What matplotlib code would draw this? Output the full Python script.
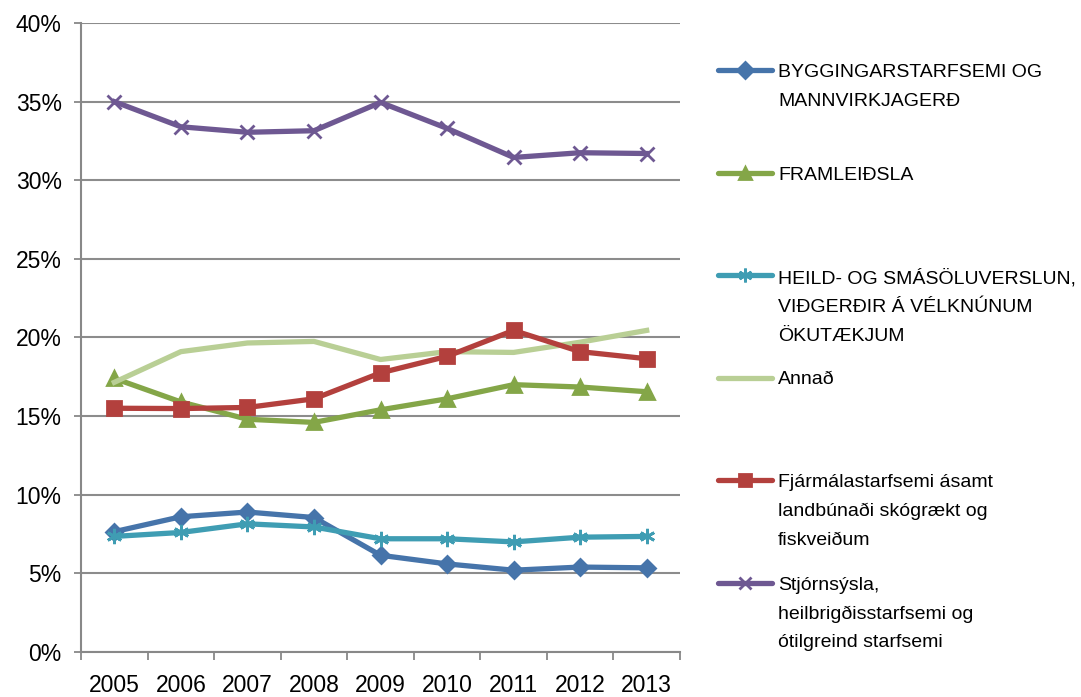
import matplotlib.pyplot as plt
from matplotlib.lines import Line2D
from matplotlib.ticker import MultipleLocator, FixedLocator, PercentFormatter

plt.rcParams['font.family'] = ['Liberation Sans', 'DejaVu Sans']

years = ['2005', '2006', '2007', '2008', '2009', '2010', '2011', '2012', '2013']

bygg = [7.65, 8.6, 8.9, 8.55, 6.15, 5.6, 5.2, 5.4, 5.35]
framl = [17.4, 15.9, 14.8, 14.6, 15.4, 16.1, 17.0, 16.85, 16.55]
heild = [7.35, 7.6, 8.15, 7.95, 7.2, 7.2, 7.0, 7.3, 7.35]
annad = [17.15, 19.1, 19.65, 19.75, 18.6, 19.1, 19.05, 19.7, 20.45]
fjarm = [15.5, 15.48, 15.55, 16.1, 17.75, 18.8, 20.45, 19.1, 18.65]
stjorn = [35.0, 33.4, 33.05, 33.15, 34.95, 33.3, 31.45, 31.75, 31.7]

labels = ['BYGGINGARSTARFSEMI OG\nMANNVIRKJAGERÐ',
          'FRAMLEIÐSLA',
          'HEILD- OG SMÁSÖLUVERSLUN,\nVIÐGERÐIR Á VÉLKNÚNUM\nÖKUTÆKJUM',
          'Annað',
          'Fjármálastarfsemi ásamt\nlandbúnaði skógrækt og\nfiskveiðum',
          'Stjórnsýsla,\nheilbrigðisstarfsemi og\nótilgreind starfsemi']

series = [bygg, framl, heild, annad, fjarm, stjorn]
colors = ['#4674AA', '#84A648', '#3F9DB3', '#B9CF95', '#B3403D', '#6E5892']
markers = ['D', '^', (6, 2, 0), None, 's', 'x']
msizes = [8.5, 10, 11, 0, 10, 10]

fig = plt.figure(figsize=(10.81, 6.97), dpi=100)
ax = fig.add_axes([0.075, 0.0646, 0.554, 0.9024])

x = list(range(len(years)))
for vals, c, m, ms in zip(series, colors, markers, msizes):
    ax.plot(x, vals, color=c, lw=3.8, marker=m, markersize=ms,
            markeredgecolor=c, markerfacecolor=c, markeredgewidth=2, zorder=3)

ax.set_xlim(-0.5, len(years) - 0.5)
ax.set_ylim(0, 40)
ax.yaxis.set_major_locator(MultipleLocator(5))
ax.yaxis.set_major_formatter(PercentFormatter(decimals=0))
ax.set_xticks(x)
ax.set_xticklabels(years)
ax.xaxis.set_minor_locator(FixedLocator([i - 0.5 for i in range(len(years) + 1)]))
ax.tick_params(axis='x', which='major', length=0, pad=16, labelsize=16.5)
ax.tick_params(axis='x', which='minor', length=6, color='#888888', width=1.3)
ax.tick_params(axis='y', length=5, color='#888888', width=1.3, pad=9, labelsize=16.5)

ax.grid(axis='y', color='#8c8c8c', lw=1.5, zorder=0)
for s in ['top', 'right']:
    ax.spines[s].set_visible(False)
for s in ['left', 'bottom']:
    ax.spines[s].set_color('#888888')
    ax.spines[s].set_linewidth(1.5)

# legend, entries spread evenly like the Excel original
y0 = 1 - 70 / 697
step = 102.5 / 697
for i, (lab, c, m, ms) in enumerate(zip(labels, colors, markers, msizes)):
    yy = y0 - i * step
    fig.add_artist(Line2D([718 / 1081, 772 / 1081], [yy, yy], color=c, lw=3.8,
                          solid_capstyle='round'))
    if m is not None:
        fig.add_artist(Line2D([745 / 1081], [yy], marker=m, markersize=ms * 0.9,
                              color=c, markeredgecolor=c, markeredgewidth=2))
    fig.text(778 / 1081, yy + 6 / 697, lab, fontsize=14, va='top', ha='left',
             linespacing=1.9)

fig.savefig('out.png', dpi=100)
